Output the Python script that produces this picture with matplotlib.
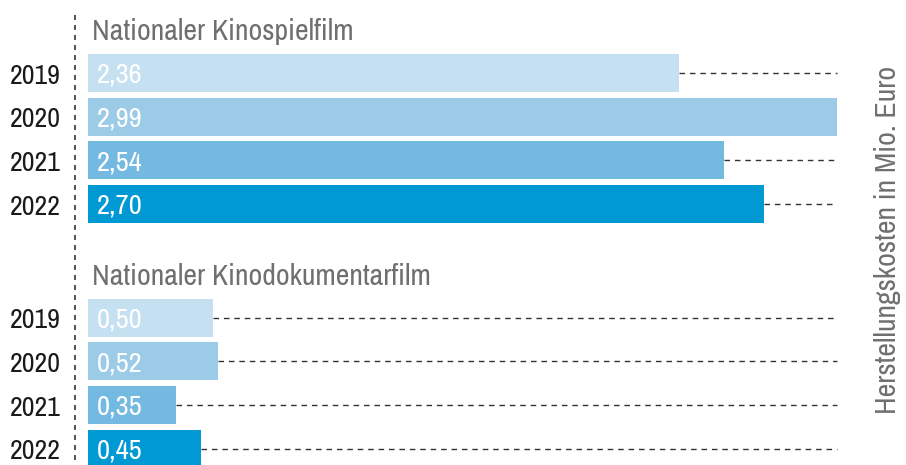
import matplotlib
matplotlib.use("Agg")
import matplotlib.pyplot as plt
from matplotlib import font_manager
import numpy as np

# Data
YEARS = ["2019", "2020", "2021", "2022"]
SPIELFILM = [2.36, 2.99, 2.54, 2.70]
DOKU = [0.50, 0.52, 0.35, 0.45]
GROUP_TITLES = ["Nationaler Kinospielfilm", "Nationaler Kinodokumentarfilm"]
AXIS_LABEL = "Herstellungskosten in Mio. Euro"

COLORS = ["#c5e0f1", "#9ccbe8", "#74b9e2", "#0099d3"]

# look for a regular narrow/condensed face, the original uses a condensed grotesk
narrow = [f for f in font_manager.fontManager.ttflist
          if ("narrow" in f.name.lower() or "condensed" in f.name.lower()
              or f.stretch in ("condensed", "semi-condensed"))
          and f.weight in (400, "normal", "regular") and f.style == "normal"]
narrow.sort(key=lambda f: ("narrow" not in f.name.lower(), f.name))
if narrow:
    FONT = font_manager.FontProperties(fname=narrow[0].fname)
    scale = 1.0
else:
    FONT = font_manager.FontProperties(family="DejaVu Sans")
    scale = 0.8

fig = plt.figure(figsize=(9.06, 4.65), dpi=100)
ax = fig.add_axes([0, 0, 1, 1])
ax.set_xlim(-0.351, 3.265)
ax.set_ylim(8.97, -1.67)
ax.axis("off")

x_end = 2.99
group_offsets = [0, 5.6]
bar_h = 0.87

for g, (vals, title) in enumerate(zip([SPIELFILM, DOKU], GROUP_TITLES)):
    y0 = group_offsets[g]
    ys = y0 + np.arange(len(vals))
    ax.barh(ys, vals, height=bar_h, color=COLORS, zorder=2)
    for y, v, yr in zip(ys, vals, YEARS):
        if v < x_end:
            ax.plot([v, x_end], [y, y], color="#333333", lw=1,
                    ls=(0, (4, 3.5)), zorder=1)
        ax.text(0.035, y + 0.05, f"{v:.2f}".replace(".", ","), color="white",
                fontproperties=FONT, fontsize=20.5 * scale, va="center",
                ha="left", zorder=3)
        ax.text(-0.11, y + 0.07, yr, color="#1a1a1a", fontproperties=FONT,
                fontsize=20 * scale, va="center", ha="right")
    ax.text(0.015, y0 - 0.95, title, color="#6f6f6f", fontproperties=FONT,
            fontsize=21.5 * scale, va="center", ha="left")

# vertical dashed separator
ax.plot([-0.052, -0.052], [-1.33, 8.97], color="#333333", lw=1.2,
        ls=(0, (3, 3)), clip_on=False)

fig.text(0.98, 0.485, AXIS_LABEL, rotation=90, color="#6f6f6f",
         fontproperties=FONT, fontsize=21.5 * scale, va="center", ha="center")

fig.savefig("out.png", dpi=100)
